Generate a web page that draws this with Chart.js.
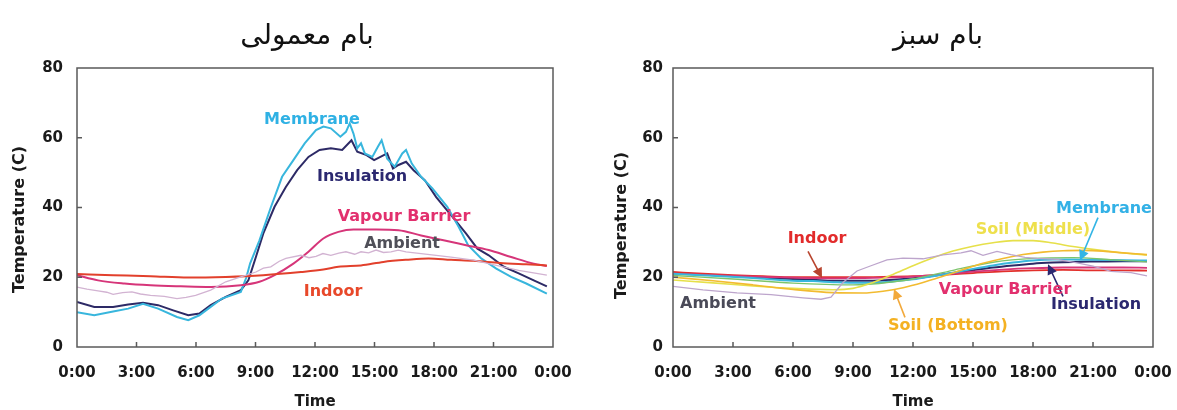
<!DOCTYPE html>
<html>
<head>
<meta charset="utf-8">
<script src="https://cdn.jsdelivr.net/npm/chart.js@4.4.1/dist/chart.umd.min.js"></script>
<style>
html,body{margin:0;padding:0;background:#fff;}
#wrap{position:relative;width:1177px;height:410px;overflow:hidden;background:#fff;}
.pane{position:absolute;top:0;height:410px;}
.ttl{position:absolute;top:17px;width:260px;text-align:center;direction:rtl;font-family:"DejaVu Sans",sans-serif;font-size:28px;line-height:36px;color:#111;}
</style>
</head>
<body>
<div id="wrap">
  <div class="pane" style="left:0;width:590px"><canvas id="c1" width="590" height="410"></canvas></div>
  <div class="pane" style="left:590px;width:587px"><canvas id="c2" width="587" height="410"></canvas></div>
  <div class="ttl" style="left:177px">بام معمولی</div>
  <div class="ttl" style="left:808px">بام سبز</div>
</div>
<script>
// ---------- tick labels ----------
const timeTickLabels = ['0:00','3:00','6:00','9:00','12:00','15:00','18:00','21:00','0:00'];
const tempTickValues = [0, 20, 40, 60, 80];

// ---------- conventional roof (left) ----------
const convMembraneHours = [0,0.87,1.82,2.58,3.33,4.09,5.04,5.61,6.17,6.74,7.31,8.26,8.54,8.73,9.2,9.77,10.34,10.91,11.48,12.05,12.42,12.8,13.28,13.56,13.75,13.94,14.13,14.32,14.51,14.89,15.17,15.36,15.64,16.02,16.4,16.59,16.88,17.35,17.92,18.67,19.24,19.72,20.38,21.14,21.89,22.65,23.69];
const convMembraneTemps = [10.0,9.1,10.2,11.0,12.4,11.0,8.6,7.7,9.1,11.5,13.9,15.8,20.0,24.0,30.6,40.0,48.8,53.6,58.4,62.2,63.2,62.7,60.3,61.7,64.1,61.2,57.0,58.4,55.5,54.5,57.4,59.3,54.0,51.7,55.5,56.5,52.6,48.8,45.5,40.2,34.5,29.2,25.4,22.5,20.1,18.2,15.3];

const convInsulationHours = [0,0.87,1.82,2.58,3.33,4.09,4.85,5.61,6.17,6.74,7.5,8.26,8.64,9.02,9.39,9.96,10.53,11.1,11.67,12.23,12.8,13.37,13.84,14.13,14.6,14.98,15.64,15.93,16.21,16.59,16.97,17.54,18.11,18.86,19.62,20.19,20.76,21.52,22.27,23.03,23.69];
const convInsulationTemps = [12.9,11.5,11.5,12.2,12.7,12.0,10.5,9.1,9.6,12.0,14.4,16.3,19.1,25.8,32.5,40.2,45.9,50.7,54.5,56.5,57.0,56.5,59.3,56.0,55.0,53.6,55.5,51.2,52.2,53.1,50.7,47.8,43.0,37.8,32.5,28.2,26.3,23.0,21.1,19.1,17.4];

const convVapourHours = [0,1.06,2.39,3.71,5.23,6.74,8.26,9.2,9.96,10.91,11.67,12.42,13.18,13.94,15.08,16.21,17.35,18.48,19.62,20.76,21.89,23.03,23.69];
const convVapourTemps = [20.6,19.1,18.2,17.7,17.4,17.2,17.7,18.7,20.6,23.9,27.3,31.1,33.0,33.7,33.7,33.5,32.0,30.6,29.2,27.8,25.8,23.9,23.2];

const convAmbientHours = [0,0.5,1.06,1.5,1.82,2.3,2.77,3.2,3.71,4.4,5.04,5.5,5.98,6.74,7.5,8.26,9.02,9.4,9.77,10.2,10.53,11.29,11.7,12.05,12.4,12.8,13.2,13.56,14.0,14.32,14.7,15.08,15.45,15.83,16.2,16.59,17.35,18.11,18.86,20.0,21.14,22.27,23.69];
const convAmbientTemps = [17.2,16.6,16.1,15.7,15.1,15.6,15.8,15.2,14.8,14.5,13.9,14.2,14.8,16.3,18.7,20.1,21.5,22.6,23.0,24.6,25.4,26.3,25.6,26.0,26.8,26.3,26.9,27.3,26.6,27.3,27.0,27.8,27.1,27.3,27.8,27.3,26.8,26.3,25.8,24.9,23.4,22.0,20.6];

const convIndoorHours = [0,1.82,3.71,5.61,7.5,9.39,11.29,12.42,13.18,14.32,15.45,16.59,17.73,18.86,20.0,21.33,22.65,23.69];
const convIndoorTemps = [20.9,20.6,20.3,19.9,20.1,20.6,21.5,22.2,23.0,23.4,24.4,25.0,25.4,25.0,24.7,24.1,23.7,23.4];

// ---------- green roof (right) ----------
const greenSoilMiddleHours = [0,2,4,6,8,9,10,11,12,13,14,15,16,17,18,19,20,21,22,23,23.7];
const greenSoilMiddleTemps = [19.2,18.4,17.5,16.8,16.4,16.8,18.5,20.8,23.3,25.6,27.5,28.9,29.9,30.5,30.5,29.8,28.8,28.0,27.3,26.7,26.4];

const greenSoilBottomHours = [0,2,4,6,8,9.5,10.5,11.5,12.5,13.5,14.5,15.5,16.5,17.5,18.5,19.5,20.5,21.5,22.5,23.7];
const greenSoilBottomTemps = [20.0,19.0,17.8,16.5,15.6,15.5,16.0,17.0,18.5,20.3,22.2,24.0,25.4,26.5,27.2,27.6,27.7,27.5,27.0,26.5];

const greenSoilTopHours = [0,3,6,9,12,14,16,18,20,22,23.7];
const greenSoilTopTemps = [20.5,19.5,18.3,17.8,19.5,22.0,24.3,25.4,25.6,25.0,24.4];

const greenAmbientHours = [0,1.5,3.2,4.9,6.5,7.4,7.9,8.5,9.2,9.9,10.7,11.5,12.5,13.5,14.4,14.9,15.5,16.2,16.9,17.6,18.2,19.2,20.2,21.0,21.9,22.9,23.7];
const greenAmbientTemps = [17.4,16.4,15.5,15.0,14.1,13.7,14.3,18.5,21.8,23.3,25.0,25.5,25.3,26.4,27.0,27.6,26.3,27.4,26.5,25.7,25.4,25.1,24.1,23.2,21.7,21.3,20.4];

const greenMembraneHours = [0,2,4,6,7,8,9,10,11,12,13,14,15,16,17,18,19,20,21,22.5,23.7];
const greenMembraneTemps = [21.0,20.4,19.8,19.0,18.9,18.6,18.4,18.4,18.8,19.4,20.3,21.3,22.4,23.4,24.2,24.8,25.1,25.1,25.0,24.9,24.8];

const greenInsulationHours = [0,2,4,6,7,8,10,12,13,14,15,16,17,18,19,20,21,22.5,23.7];
const greenInsulationTemps = [21.2,20.6,20.0,19.5,19.3,19.0,19.0,19.7,20.4,21.2,22.0,22.8,23.4,23.9,24.2,24.4,24.5,24.6,24.6];

const greenVapourHours = [0,2,4,6,8,10,12,13.5,15,16.5,18,19.5,21,22.5,23.7];
const greenVapourTemps = [21.0,20.6,20.2,19.9,19.7,19.8,20.2,20.8,21.6,22.2,22.6,22.8,22.8,22.8,22.7];

const greenIndoorHours = [0,1.5,3,4.5,6,7.5,9,10.5,12,13.5,15,16.5,18,19.5,21,22.5,23.7];
const greenIndoorTemps = [21.5,21.0,20.6,20.3,20.0,20.0,20.0,20.1,20.3,20.7,21.2,21.7,22.0,22.1,22.0,22.0,21.9];

// ---------- helpers ----------
const FONT = '"DejaVu Sans", "Liberation Sans", sans-serif';
function pts(h, v) { return h.map((x, i) => ({x: x, y: v[i]})); }
function ds(label, h, v, color, width, smooth) {
  return {label: label, data: pts(h, v), borderColor: color, backgroundColor: color,
    borderWidth: width, pointRadius: 0, fill: false,
    cubicInterpolationMode: smooth ? 'monotone' : 'default', tension: smooth ? 0.4 : 0};
}

const annotPlugin = {
  id: 'annot',
  afterDraw(chart, args, o) {
    const {ctx, chartArea: a, scales: {x, y}} = chart;
    ctx.save();
    // frame
    ctx.strokeStyle = '#5a5a5a'; ctx.lineWidth = 1.5;
    ctx.strokeRect(a.left, a.top, a.right - a.left, a.bottom - a.top);
    // inward tick marks
    ctx.beginPath();
    x.ticks.forEach(t => { if (t.value > 0 && t.value < 24) { const px = x.getPixelForValue(t.value); ctx.moveTo(px, a.bottom); ctx.lineTo(px, a.bottom - 5); } });
    y.ticks.forEach(t => { if (t.value > 0 && t.value < 80) { const py = y.getPixelForValue(t.value); ctx.moveTo(a.left, py); ctx.lineTo(a.left + 5, py); } });
    ctx.stroke();
    // y title
    ctx.save();
    ctx.translate(o.yTitleX, (a.top + a.bottom) / 2 + o.yTitleShift);
    ctx.rotate(-Math.PI / 2);
    ctx.fillStyle = '#1a1a1a';
    ctx.font = 'bold 16px ' + FONT;
    ctx.textAlign = 'center'; ctx.textBaseline = 'middle';
    ctx.fillText('Temperature (C)', 0, 0);
    ctx.restore();
    // arrows
    (o.arrows || []).forEach(ar => {
      const x1 = x.getPixelForValue(ar.from[0]), y1 = y.getPixelForValue(ar.from[1]);
      const x2 = x.getPixelForValue(ar.to[0]), y2 = y.getPixelForValue(ar.to[1]);
      ctx.strokeStyle = ar.color; ctx.fillStyle = ar.color; ctx.lineWidth = 1.6;
      const ang = Math.atan2(y2 - y1, x2 - x1);
      const L = 10, W = 5;
      ctx.beginPath(); ctx.moveTo(x1, y1); ctx.lineTo(x2 - Math.cos(ang) * L * 0.6, y2 - Math.sin(ang) * L * 0.6); ctx.stroke();
      ctx.beginPath();
      ctx.moveTo(x2, y2);
      ctx.lineTo(x2 - Math.cos(ang) * L + Math.sin(ang) * W, y2 - Math.sin(ang) * L - Math.cos(ang) * W);
      ctx.lineTo(x2 - Math.cos(ang) * L - Math.sin(ang) * W, y2 - Math.sin(ang) * L + Math.cos(ang) * W);
      ctx.closePath(); ctx.fill();
    });
    // labels
    ctx.font = 'bold 16px ' + FONT;
    ctx.textAlign = 'center'; ctx.textBaseline = 'middle';
    (o.labels || []).forEach(l => {
      ctx.fillStyle = l.color;
      ctx.fillText(l.text, x.getPixelForValue(l.at[0]), y.getPixelForValue(l.at[1]));
    });
    ctx.restore();
  }
};

function makeChart(id, datasets, lay) {
  return new Chart(document.getElementById(id), {
    type: 'line',
    data: {datasets: datasets},
    plugins: [annotPlugin],
    options: {
      responsive: false, animation: false, devicePixelRatio: 1,
      layout: {padding: {left: 0, top: 68, right: lay.right, bottom: 0}},
      plugins: {legend: {display: false}, tooltip: {enabled: false}, title: {display: false},
        annot: lay.annot},
      scales: {
        x: {type: 'linear', min: 0, max: 24,
          afterBuildTicks: s => { s.ticks = timeTickLabels.map((_, i) => ({value: i * 3})); },
          afterFit: s => { s.height = 63; },
          grid: {display: false, drawTicks: true, tickLength: 17}, border: {display: false},
          ticks: {padding: 0, color: '#1a1a1a', font: {family: FONT, size: 15, weight: 'bold'},
            maxRotation: 0, autoSkip: false,
            callback: (v) => timeTickLabels[Math.round(v / 3)]},
          title: {display: true, text: 'Time', color: '#1a1a1a', padding: {top: 0, bottom: 0},
            font: {family: FONT, size: 15, weight: 'bold', lineHeight: 1}}
        },
        y: {type: 'linear', min: 0, max: 80,
          afterBuildTicks: s => { s.ticks = tempTickValues.map(v => ({value: v})); },
          afterFit: s => { s.width = lay.yWidth; },
          grid: {display: false, drawTicks: true, tickLength: lay.yPad}, border: {display: false},
          ticks: {padding: 0, color: '#1a1a1a', font: {family: FONT, size: 15, weight: 'bold'}}
        }
      }
    }
  });
}

// ---------- left chart ----------
makeChart('c1', [
  ds('Ambient', convAmbientHours, convAmbientTemps, '#d2b3d2', 1.3, false),
  ds('Indoor', convIndoorHours, convIndoorTemps, '#e2402c', 2, true),
  ds('Vapour Barrier', convVapourHours, convVapourTemps, '#d63579', 2, true),
  ds('Membrane', convMembraneHours, convMembraneTemps, '#38b6dd', 2, false),
  ds('Insulation', convInsulationHours, convInsulationTemps, '#2d2a66', 2, false)
], {
  right: 37, yWidth: 77, yPad: 14,
  annot: {
    yTitleX: 20, yTitleShift: 12,
    labels: [
      {text: 'Membrane', at: [11.85, 65.2], color: '#2fb1e4'},
      {text: 'Insulation', at: [14.37, 48.9], color: '#2b2870'},
      {text: 'Vapour Barrier', at: [16.49, 37.4], color: '#e2306e'},
      {text: 'Ambient', at: [16.39, 29.7], color: '#4f4f58'},
      {text: 'Indoor', at: [12.91, 15.9], color: '#e8482a'}
    ]
  }
});

// ---------- right chart ----------
makeChart('c2', [
  ds('Ambient', greenAmbientHours, greenAmbientTemps, '#bda5cc', 1.3, false),
  ds('Soil (Bottom)', greenSoilBottomHours, greenSoilBottomTemps, '#f2bb30', 1.6, true),
  ds('Soil (Middle)', greenSoilMiddleHours, greenSoilMiddleTemps, '#e6e04a', 1.6, true),
  ds('Soil (Top)', greenSoilTopHours, greenSoilTopTemps, '#7cc46c', 1.3, true),
  ds('Membrane', greenMembraneHours, greenMembraneTemps, '#38b6dd', 2, true),
  ds('Vapour Barrier', greenVapourHours, greenVapourTemps, '#d63579', 1.8, true),
  ds('Indoor', greenIndoorHours, greenIndoorTemps, '#e2302c', 1.8, true),
  ds('Insulation', greenInsulationHours, greenInsulationTemps, '#2d2a66', 2, true)
], {
  right: 24, yWidth: 83, yPad: 10,
  annot: {
    yTitleX: 32, yTitleShift: 18,
    arrows: [
      {from: [6.75, 27.4], to: [7.45, 19.8], color: '#b8442e'},
      {from: [11.6, 8.5], to: [11.05, 16.6], color: '#f2a93b'},
      {from: [21.25, 37.1], to: [20.35, 24.8], color: '#33b5e5'},
      {from: [19.5, 14.5], to: [18.75, 23.7], color: '#2b2870'}
    ],
    labels: [
      {text: 'Indoor', at: [7.2, 31.1], color: '#e22b2b'},
      {text: 'Ambient', at: [2.25, 12.5], color: '#4a4a58'},
      {text: 'Soil (Bottom)', at: [13.75, 6.2], color: '#f4b122'},
      {text: 'Soil (Middle)', at: [18.0, 33.7], color: '#eee04c'},
      {text: 'Membrane', at: [21.55, 39.7], color: '#33b1e6'},
      {text: 'Vapour Barrier', at: [16.6, 16.5], color: '#e2306e'},
      {text: 'Insulation', at: [21.15, 12.2], color: '#2b2870'}
    ]
  }
});
</script>
</body>
</html>
